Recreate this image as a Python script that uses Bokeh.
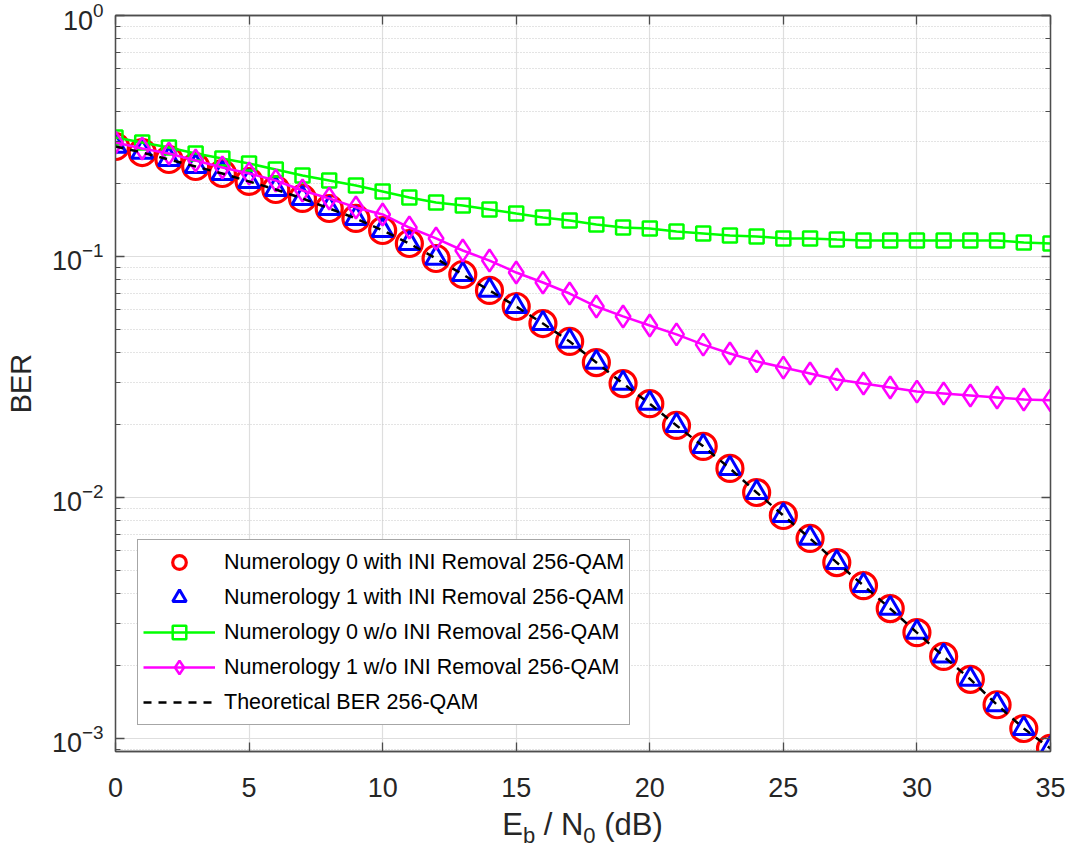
from bokeh.plotting import figure
from bokeh.layouts import column
from bokeh.models import (Range1d, LogAxis, LinearAxis, FixedTicker, LogTicker,
                          Legend, LegendItem, Div)
from bokeh.embed import file_html
from bokeh.resources import INLINE

# ---------------- data ----------------
ebn0 = list(range(36))

ber_theory = [0.286, 0.270, 0.2526, 0.2362, 0.2210, 0.2048, 0.1897, 0.1741, 0.1582, 0.1438,
              0.1282, 0.1132, 0.0981, 0.0842, 0.0723, 0.0620, 0.0527, 0.0444, 0.0363, 0.0297,
              0.0245, 0.0199, 0.0163, 0.0132, 0.01049, 0.00842, 0.00676, 0.00537, 0.00431,
              0.00346, 0.00275, 0.00219, 0.00176, 0.00138, 0.00110, 0.000909]
ber_num0_ini = [0.286, 0.270, 0.2526, 0.2362, 0.2210, 0.2048, 0.1897, 0.1741, 0.1582, 0.1438,
                0.1282, 0.1132, 0.0981, 0.0842, 0.0723, 0.0620, 0.0527, 0.0444, 0.0363, 0.0297,
                0.0245, 0.0199, 0.0163, 0.0132, 0.01049, 0.00842, 0.00676, 0.00537, 0.00431,
                0.00346, 0.00275, 0.00219, 0.00176, 0.00138, 0.00110, 0.000909]
ber_num1_ini = [0.287, 0.271, 0.2530, 0.2365, 0.2212, 0.2050, 0.1899, 0.1743, 0.1584, 0.1440,
                0.1284, 0.1134, 0.0983, 0.0843, 0.0724, 0.0621, 0.0528, 0.0445, 0.0364, 0.0298,
                0.0246, 0.0199, 0.0163, 0.0132, 0.01050, 0.00843, 0.00677, 0.00538, 0.00432,
                0.00347, 0.00276, 0.00220, 0.00176, 0.00138, 0.00110, 0.000910]
ber_num0_wo = [0.3118, 0.2972, 0.2834, 0.2676, 0.2551, 0.2431, 0.2296, 0.2169, 0.2067, 0.1970,
               0.1861, 0.1757, 0.1675, 0.1628, 0.1567, 0.1508, 0.1452, 0.1411, 0.1358, 0.1319,
               0.1307, 0.1270, 0.1246, 0.1222, 0.1211, 0.1188, 0.1188, 0.1176, 0.1165, 0.1165,
               0.1165, 0.1165, 0.1165, 0.1165, 0.1143, 0.1132]
ber_num1_wo = [0.2972, 0.2806, 0.2676, 0.2502, 0.2340, 0.2210, 0.2067, 0.1878, 0.1741, 0.1598,
               0.1494, 0.1319, 0.1188, 0.1059, 0.0962, 0.0858, 0.0780, 0.0702, 0.0620, 0.0564,
               0.0517, 0.0475, 0.0431, 0.0396, 0.0367, 0.0346, 0.0327, 0.0309, 0.0297, 0.0286,
               0.0275, 0.0270, 0.0265, 0.0260, 0.0255, 0.0253]

x_ticks = [0, 5, 10, 15, 20, 25, 30, 35]
legend_labels = ["Numerology 0 with INI Removal 256-QAM",
                 "Numerology 1 with INI Removal 256-QAM",
                 "Numerology 0 w/o INI Removal 256-QAM",
                 "Numerology 1 w/o INI Removal 256-QAM",
                 "Theoretical BER 256-QAM"]

FONT = "Liberation Sans"
TXT = "#262626"
AX = "#4d4d4d"

Y_MIN, Y_MAX = 8.83e-4, 1.0

p = figure(width=1070, height=811, x_range=Range1d(0, 35), y_range=Range1d(Y_MIN, Y_MAX),
           y_axis_type="log", output_backend="svg", toolbar_location=None,
           min_border_left=115, min_border_right=20, min_border_top=15, min_border_bottom=60,
           background_fill_color="white", border_fill_color="white")
p.outline_line_color = AX
p.outline_line_width = 1.3

# axes
for ax in (p.xaxis[0], p.yaxis[0]):
    ax.major_label_text_font = FONT
    ax.major_label_text_font_size = "27px"
    ax.major_label_text_color = TXT
    ax.axis_line_color = AX
    ax.axis_line_width = 1.3
    ax.major_tick_line_color = AX
    ax.minor_tick_line_color = AX
    ax.major_tick_in = 9
    ax.major_tick_out = 0
    ax.minor_tick_in = 5
    ax.minor_tick_out = 0
    ax.major_tick_line_width = 1.3

p.xaxis[0].ticker = FixedTicker(ticks=x_ticks)
p.xaxis[0].major_label_standoff = 26
p.yaxis[0].major_label_standoff = 12
p.yaxis[0].axis_label = "BER"
p.yaxis[0].axis_label_text_font = FONT
p.yaxis[0].axis_label_text_font_size = "29px"
p.yaxis[0].axis_label_text_font_style = "normal"
p.yaxis[0].axis_label_text_color = TXT
p.yaxis[0].axis_label_standoff = 12

# mirrored axes (box ticks), labels hidden
top = LinearAxis(ticker=FixedTicker(ticks=x_ticks), major_label_text_font_size="1px",
                 major_label_text_alpha=0, major_label_standoff=0,
                 axis_line_color=AX, major_tick_line_color=AX,
                 major_tick_in=9, major_tick_out=0, minor_tick_out=0, minor_tick_in=0,
                 major_tick_line_width=1.3, axis_line_width=1.3)
right = LogAxis(ticker=LogTicker(), major_label_text_font_size="1px",
                major_label_text_alpha=0, major_label_standoff=0,
                axis_line_color=AX, major_tick_line_color=AX, minor_tick_line_color=AX,
                major_tick_in=9, major_tick_out=0, minor_tick_in=5, minor_tick_out=0,
                major_tick_line_width=1.3, axis_line_width=1.3)
p.add_layout(top, "above")
p.add_layout(right, "right")

# grids
p.xgrid.grid_line_color = "#dedede"
p.xgrid.grid_line_width = 1.2
p.ygrid.grid_line_color = "#dedede"
p.ygrid.grid_line_width = 1.2
p.ygrid.minor_grid_line_color = "#c8c8c8"
p.ygrid.minor_grid_line_dash = "1 2"
p.ygrid.minor_grid_line_width = 1

# series
r_c = p.scatter(ebn0, ber_num0_ini, marker="circle", size=26, fill_color=None,
                line_color="#ff0000", line_width=3.2)
r_t = p.scatter(ebn0, ber_num1_ini, marker="triangle", size=21, fill_color=None,
                line_color="#0000ff", line_width=3)
l_g = p.line(ebn0, ber_num0_wo, line_color="#00ff00", line_width=2.5)
s_g = p.scatter(ebn0, ber_num0_wo, marker="square", size=14, fill_color=None,
                line_color="#00ff00", line_width=2.5)
l_m = p.line(ebn0, ber_num1_wo, line_color="#ff00ff", line_width=2.5)
s_m = p.scatter(ebn0, ber_num1_wo, marker="diamond", size=22, fill_color=None,
                line_color="#ff00ff", line_width=2.5)
l_t = p.line(ebn0, ber_theory, line_color="black", line_width=2.5, line_dash="8 7")

legend = Legend(items=[LegendItem(label=legend_labels[0], renderers=[r_c]),
                       LegendItem(label=legend_labels[1], renderers=[r_t]),
                       LegendItem(label=legend_labels[2], renderers=[l_g, s_g]),
                       LegendItem(label=legend_labels[3], renderers=[l_m, s_m]),
                       LegendItem(label=legend_labels[4], renderers=[l_t])],
                location=(22, 26), label_text_font=FONT, label_text_font_size="21.5px",
                label_text_color="black", glyph_width=72, glyph_height=34,
                label_height=34, spacing=1, padding=5, margin=0, label_standoff=9,
                border_line_color=AX, border_line_width=1.3, background_fill_alpha=1.0)
p.add_layout(legend, "center")

# x axis label with subscripts: E_b / N_0 (dB)
xlabel = Div(
    text=('E<span style="font-size:22px;vertical-align:-8px">b</span> / '
          'N<span style="font-size:22px;vertical-align:-8px">0</span> (dB)'),
    width=935, height=44, margin=(-3, 0, 0, 115),
    styles={"font-family": FONT, "font-size": "31px", "color": TXT,
            "text-align": "center", "line-height": "34px", "white-space": "nowrap"})

layout = column(p, xlabel, spacing=0)
open("out.html", "w").write(file_html(layout, INLINE))
